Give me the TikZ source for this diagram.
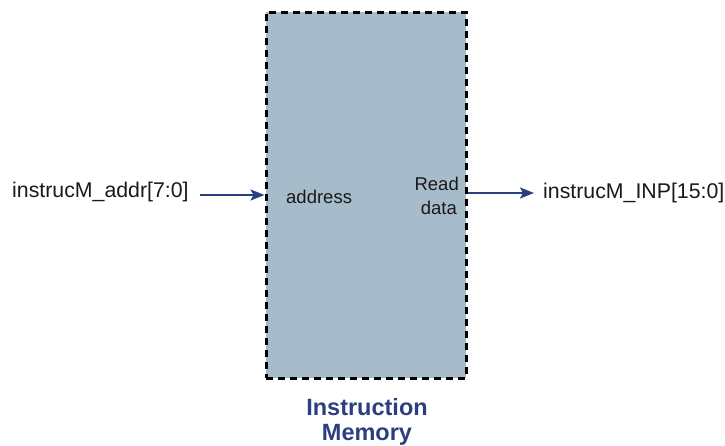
\documentclass[tikz,border=0pt]{standalone}
\usepackage{fontspec}
\setmainfont{Liberation Sans}
\usetikzlibrary{arrows.meta}
\definecolor{memfill}{HTML}{A7BCCB}
\definecolor{navy}{HTML}{2B3F7E}
\tikzset{
  membox/.style={draw=black, fill=memfill, line width=3pt, dash pattern=on 7pt off 5pt, minimum width=200pt, minimum height=366pt, inner sep=0pt},
  sig/.style={font=\fontsize{21.3}{25}\selectfont, inner sep=0pt, text=black!90},
  port/.style={font=\fontsize{18.5}{24}\selectfont, inner sep=0pt, text=black!90},
  arr/.style={draw=navy, line width=2pt, -{Stealth[length=14pt,width=11pt,inset=3pt]}},
  ttl/.style={font=\bfseries\fontsize{23.5}{25}\selectfont, text=navy, align=center, inner sep=0pt}
}
\begin{document}
\begin{tikzpicture}[x=1pt,y=-1pt]
\useasboundingbox (0,0) rectangle (725,445);
\node[membox] (mem) at (366,195) {};
\node[sig, anchor=base west] (inaddr) at (12,197) {instrucM\_addr[7:0]};
\node[sig, anchor=base west] (outinp) at (543,198) {instrucM\_INP[15:0]};
\node[port, anchor=base west] (address) at (286,203) {address};
\node[port, anchor=base east] (read) at (459,190) {Read};
\node[port, anchor=base east] (data) at (457,214) {data};
\node[ttl, anchor=base] (title1) at (367,415) {Instruction};
\node[ttl, anchor=base] (title2) at (367,440) {Memory};
\coordinate (a1) at (200,195);
\coordinate (a2) at (534,193);
\draw[arr] (a1) -- (a1 -| mem.west);
\draw[arr] (mem.east |- a2) -- (a2);
\end{tikzpicture}
\end{document}
